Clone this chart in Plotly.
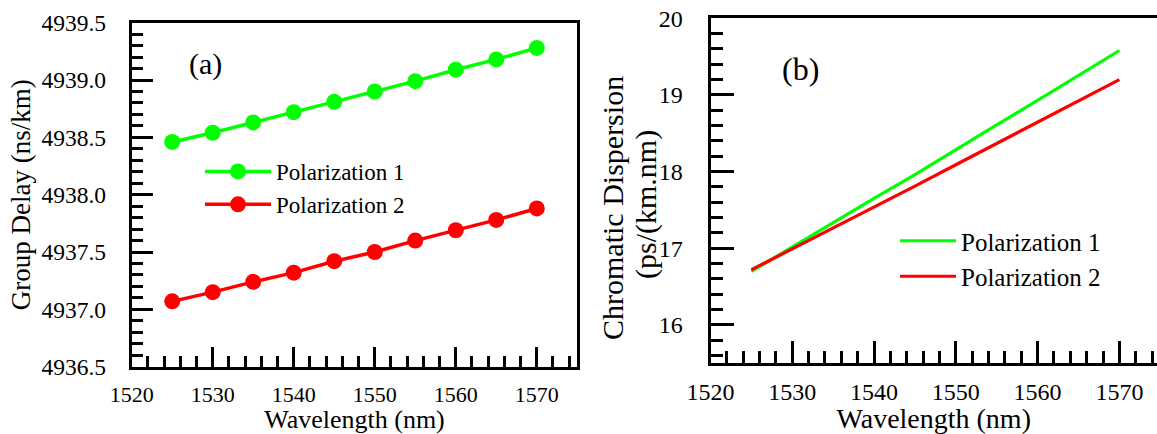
import plotly.graph_objects as go

# ---------------- data ----------------
wavelength = [1525, 1530, 1535, 1540, 1545, 1550, 1555, 1560, 1565, 1570]

group_delay_p1 = [4938.46, 4938.54, 4938.63, 4938.72, 4938.81,
                  4938.90, 4938.99, 4939.09, 4939.18, 4939.28]
group_delay_p2 = [4937.07, 4937.15, 4937.24, 4937.32, 4937.42,
                  4937.50, 4937.60, 4937.69, 4937.78, 4937.88]

dispersion_p1 = [16.70, 17.02, 17.33, 17.65, 17.96,
                 18.29, 18.61, 18.93, 19.26, 19.58]
dispersion_p2 = [16.72, 16.99, 17.26, 17.54, 17.81,
                 18.09, 18.37, 18.64, 18.92, 19.20]

series_names = ["Polarization 1", "Polarization 2"]
panel_labels = ["(a)", "(b)"]
cd_title_lines = ["Chromatic Dispersion", "(ps/(km.nm)"]

# ---------------- style ----------------
FONT = "Liberation Serif"
GREEN = "#00FF00"
RED = "#FF0000"
W, H = 1157, 434

fig = go.Figure()

fig.add_trace(go.Scatter(x=wavelength, y=group_delay_p1, name=series_names[0],
                         mode="lines+markers", line=dict(color=GREEN, width=3.5),
                         marker=dict(size=16, color=GREEN),
                         xaxis="x", yaxis="y", legend="legend"))
fig.add_trace(go.Scatter(x=wavelength, y=group_delay_p2, name=series_names[1],
                         mode="lines+markers", line=dict(color=RED, width=3.5),
                         marker=dict(size=16, color=RED),
                         xaxis="x", yaxis="y", legend="legend"))
fig.add_trace(go.Scatter(x=wavelength, y=dispersion_p1, name=series_names[0],
                         mode="lines", line=dict(color=GREEN, width=3.2),
                         xaxis="x2", yaxis="y2", legend="legend2"))
fig.add_trace(go.Scatter(x=wavelength, y=dispersion_p2, name=series_names[1],
                         mode="lines", line=dict(color=RED, width=3.2),
                         xaxis="x2", yaxis="y2", legend="legend2"))


def ax_common(size):
    return dict(showline=True, linecolor="black", linewidth=3,
                ticks="inside", tickwidth=3, tickcolor="black",
                showgrid=False, zeroline=False, automargin=False,
                tickfont=dict(family=FONT, size=size, color="black"))


def px_x(p):
    return p / W


def px_y(p):
    return 1 - p / H


fig.update_layout(
    template="none",
    width=W, height=H,
    margin=dict(l=0, r=0, t=0, b=0, pad=0, autoexpand=False),
    paper_bgcolor="white", plot_bgcolor="white",
    font=dict(family=FONT, color="black"),
    xaxis=dict(**ax_common(22), domain=[px_x(131.7), px_x(577.3)], anchor="y",
               range=[1520, 1575], tick0=1520, dtick=10, ticklen=20, mirror=True,
               ticklabelstandoff=6,
               minor=dict(ticks="inside", ticklen=11, tickwidth=3, tickcolor="black", dtick=2),
               title=dict(text="Wavelength (nm)", font=dict(family=FONT, size=26), standoff=0)),
    yaxis=dict(**ax_common(23.5), domain=[px_y(366.7), px_y(22.7)], anchor="x",
               range=[4936.5, 4939.5], tick0=4936.5, dtick=0.5, tickformat=".1f",
               ticklen=21, mirror=True, ticklabelstandoff=18,
               minor=dict(ticks="inside", ticklen=11, tickwidth=3, tickcolor="black", dtick=0.1),
               title=dict(text="Group Delay (ns/km)", font=dict(family=FONT, size=27), standoff=3)),
    xaxis2=dict(**ax_common(24), domain=[px_x(710.5), 1.0], anchor="y2",
                range=[1520, 1574.6], tick0=1520, dtick=10, ticklen=22, mirror=True,
                ticklabelstandoff=5,
                minor=dict(ticks="inside", ticklen=12, tickwidth=3, tickcolor="black", dtick=2),
                title=dict(text="Wavelength (nm)", font=dict(family=FONT, size=28), standoff=0)),
    yaxis2=dict(**ax_common(24), domain=[px_y(363.3), px_y(18.3)], anchor="x2",
                range=[15.5, 20], tick0=16, dtick=1, ticklen=23, mirror=False,
                ticklabelstandoff=20,
                minor=dict(ticks="inside", ticklen=12, tickwidth=3, tickcolor="black", dtick=0.2)),
    legend=dict(x=px_x(200), y=px_y(150), xanchor="left", yanchor="top",
                bgcolor="rgba(0,0,0,0)", borderwidth=0, itemwidth=66,
                font=dict(family=FONT, size=23, color="black"), tracegroupgap=0),
    legend2=dict(x=px_x(895), y=px_y(218), xanchor="left", yanchor="top",
                 bgcolor="rgba(0,0,0,0)", borderwidth=0, itemwidth=56,
                 font=dict(family=FONT, size=25, color="black"), tracegroupgap=0),
    annotations=[
        dict(text=panel_labels[0], x=px_x(205), y=px_y(64), xref="paper", yref="paper",
             xanchor="center", yanchor="middle", showarrow=False,
             font=dict(family=FONT, size=30, color="black")),
        dict(text=panel_labels[1], x=px_x(800), y=px_y(69), xref="paper", yref="paper",
             xanchor="center", yanchor="middle", showarrow=False,
             font=dict(family=FONT, size=32, color="black")),
        dict(text=cd_title_lines[0], x=px_x(613), y=px_y(208), xref="paper", yref="paper",
             xanchor="center", yanchor="middle", textangle=-90, showarrow=False,
             font=dict(family=FONT, size=30, color="black")),
        dict(text=cd_title_lines[1], x=px_x(646), y=px_y(205), xref="paper", yref="paper",
             xanchor="center", yanchor="middle", textangle=-90, showarrow=False,
             font=dict(family=FONT, size=30, color="black")),
    ],
    showlegend=True,
)

fig.write_html("out.html")
